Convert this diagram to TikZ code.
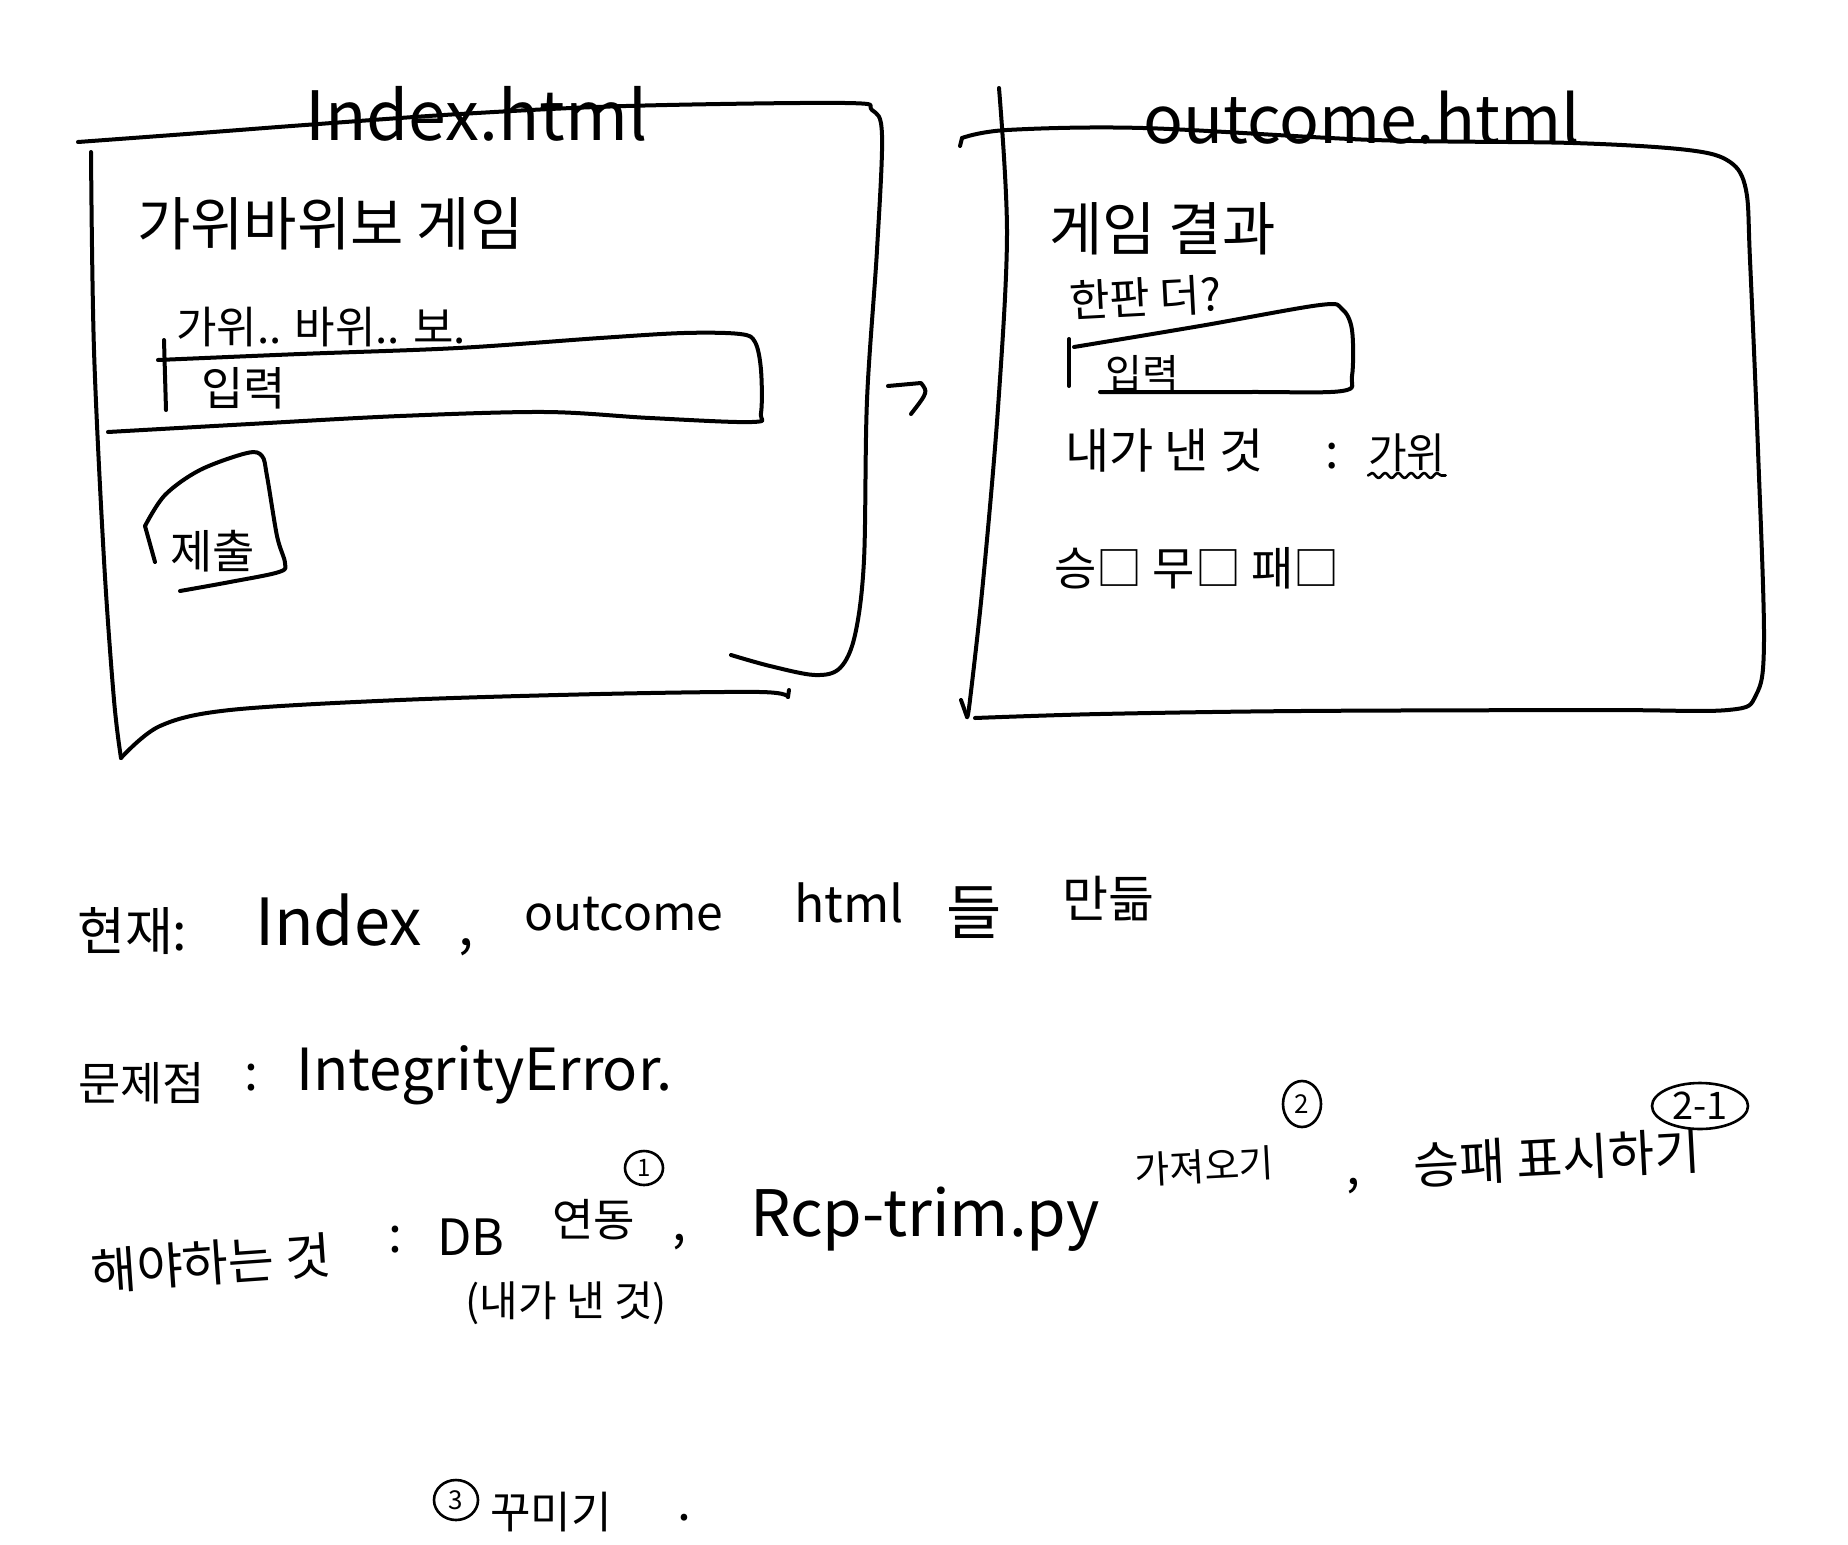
\documentclass[tikz,border=0pt]{standalone}
\usepackage{fontspec}
\setmainfont{Noto Sans CJK KR}
\usetikzlibrary{shapes.geometric,decorations.pathmorphing}
\newcommand{\hws}[1]{\fontsize{#1pt}{#1pt}\selectfont}
\begin{document}
\begin{tikzpicture}[x=1pt,y=-1pt,
  pen/.style={line width=4pt, line cap=round, line join=round, black},
  thin pen/.style={line width=2.6pt, line cap=round, line join=round, black},
  hw/.style={inner sep=0pt, anchor=base west},
  num/.style={ellipse, draw, line width=2.6pt, inner sep=0pt},
  sm/.style={smooth, tension=0.55}
]
\fill[white] (0,0) rectangle (1848,1545);
\useasboundingbox (0,0) rectangle (1848,1545);

% ---------------- left page: Index.html ----------------
\node[hw, font=\hws{68}] (tIndex) at (305,140) {Index.html};
\draw[pen] plot[sm] coordinates {(78,142) (200,133) (305,125) (460,114) (626,106) (845,103) (872,110) (882,135) (877,250) (867,400) (864,560) (855,635) (840,668) (815,675) (770,666) (731,655)};
\draw[pen] plot[sm] coordinates {(91,152) (94,350) (104,560) (114,700) (121,758)};
\draw[pen] plot[sm] coordinates {(121,758) (160,726) (230,710) (400,700) (600,694) (760,692) (788,697)};
\draw[pen] (788,697) -- (789,690);

\node[hw, font=\hws{58}] (gameTitle) at (137,245) {가위바위보 게임};
\node[hw, font=\hws{44}] (placeholder) at (176,343) {가위.. 바위.. 보.};
\draw[pen] plot[sm] coordinates {(158,360) (300,354) (458,348) (600,338) (684,333) (740,334) (755,342) (761,370) (761,413) (752,422) (650,418) (545,412) (400,416) (250,424) (108,432)};
\draw[pen] (164,340) -- (166,410);
\node[hw, font=\hws{46}] (inputL) at (201,405) {입력};

\draw[pen] (155,562) -- (145,526);
\draw[pen] plot[sm] coordinates {(145,526) (165,495) (200,470) (247,453) (262,456) (267,476) (277,536) (285,563) (279,572) (230,582) (180,591)};
\node[hw, font=\hws{46}] (submit) at (170,568) {제출};

% ---------------- arrow ----------------
\coordinate (arrA) at (888,386);
\coordinate (arrB) at (921,383);
\coordinate (arrC) at (911,414);
\draw[pen] (arrA) -- (arrB) .. controls (928,392) .. (arrC);

% ---------------- right page: outcome.html ----------------
\node[hw, font=\hws{66}] (tOutcome) at (1143,143) {outcome.html};
\draw[pen] plot[sm] coordinates {(999,88) (1007,234) (998,408) (983,582) (970,700) (967,717)};
\draw[pen] (961,700) -- (967,717);
\draw[pen] (960,146) -- (962,138);
\draw[pen] plot[sm] coordinates {(962,138) (1007,130) (1143,128) (1374,140) (1573,143) (1688,150) (1730,162) (1746,190) (1750,260) (1758,450) (1764,640) (1756,695) (1728,710) (1600,710) (1300,711) (1100,714) (975,718)};

\node[hw, font=\hws{58}] (resultTitle) at (1049,250) {게임 결과};
\node[hw, font=\hws{44}, rotate=3] (again) at (1070,318) {한판 더?};
\draw[pen] plot[sm] coordinates {(1074,347) (1200,326) (1320,305) (1342,309) (1352,330) (1352,376) (1342,391) (1250,392) (1100,392)};
\draw[pen] (1069,339) -- (1069,386);
\node[hw, font=\hws{40}] (inputR) at (1105,388) {입력};

\node[hw, font=\hws{48}] (mine) at (1065,468) {내가 낸 것};
\node[hw, font=\hws{48}] (colonR) at (1325,468) {:};
\node[hw, font=\hws{42}] (kawi) at (1368,468) {가위};
\draw[thin pen, decorate, decoration={snake, amplitude=2.5pt, segment length=13pt}] ([yshift=-4pt]kawi.south west) -- ([yshift=-4pt]kawi.south east);

\node[hw, font=\hws{46}] (wdl) at (1054,585) {승□ 무□ 패□};

% ---------------- notes below ----------------
\node[hw, font=\hws{52}] (nowL) at (77,950) {현재:};
\node[hw, font=\hws{65}] (nowIdx) at (255,945) {Index};
\node[hw, font=\hws{55}] (nowComma) at (458,945) {,};
\node[hw, font=\hws{48}] (nowOut) at (524,930) {outcome};
\node[hw, font=\hws{50}] (nowHtml) at (794,922) {html};
\node[hw, font=\hws{60}] (nowDeul) at (946,934) {들};
\node[hw, font=\hws{50}] (nowMade) at (1062,917) {만듦};

\node[hw, font=\hws{46}] (probL) at (78,1100) {문제점};
\node[hw, font=\hws{50}] (probColon) at (244,1090) {:};
\node[hw, font=\hws{58}] (probErr) at (296,1090) {IntegrityError.};

\node[hw, font=\hws{50}, rotate=4] (todoL) at (92,1290) {해야하는 것};
\node[hw, font=\hws{50}] (todoColon) at (388,1252) {:};
\node[hw, font=\hws{50}] (todoDB) at (437,1255) {DB};
\node[hw, font=\hws{45}] (todoLink) at (552,1236) {연동};
\node[num, minimum width=38pt, minimum height=34pt, font=\hws{24}] (n1) at (644,1168) {1};
\node[hw, font=\hws{50}] (todoC1) at (672,1240) {,};
\node[hw, font=\hws{64}] (todoRcp) at (750,1236) {Rcp-trim.py};
\node[hw, font=\hws{38}, rotate=3] (todoGet) at (1135,1184) {가져오기};
\node[num, minimum width=38pt, minimum height=46pt, font=\hws{26}] (n2) at (1302,1104) {2};
\node[hw, font=\hws{50}] (todoC2) at (1346,1184) {,};
\node[hw, font=\hws{50}, rotate=3] (todoShow) at (1414,1184) {승패 표시하기};
\node[num, minimum width=96pt, minimum height=46pt, font=\hws{38}, fill=white] (n21) at (1700,1106) {2-1};
\node[hw, font=\hws{42}] (todoSub) at (465,1316) {(내가 낸 것)};

\node[num, minimum width=44pt, minimum height=40pt, font=\hws{26}] (n3) at (456,1500) {3};
\node[hw, font=\hws{44}] (decor) at (490,1528) {꾸미기};
\node[hw, font=\hws{50}] (decorDot) at (677,1520) {.};
\end{tikzpicture}
\end{document}
